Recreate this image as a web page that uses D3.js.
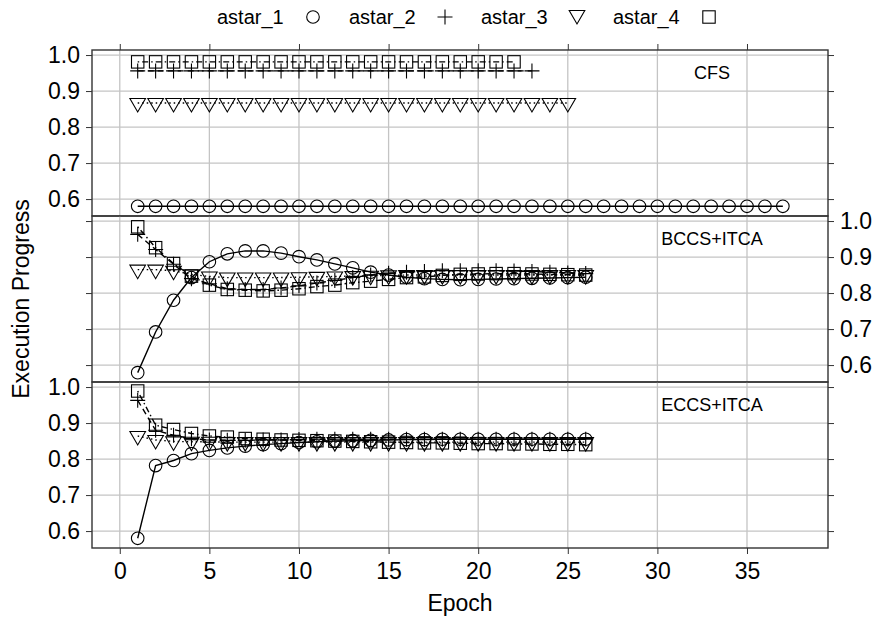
<!DOCTYPE html>
<html><head><meta charset="utf-8">
<script src="https://cdn.jsdelivr.net/npm/d3@7"></script>
<style>body{margin:0;background:#fff}text{font-family:"Liberation Sans",Arial,Helvetica,sans-serif}</style>
</head><body><svg id="c" width="878" height="618"></svg>
<script>
const panelNames = ["CFS", "BCCS+ITCA", "ECCS+ITCA"];
const seriesNames = ["astar_1", "astar_2", "astar_3", "astar_4"];
const xTicks = [0, 5, 10, 15, 20, 25, 30, 35];
const yTicks = [0.6, 0.7, 0.8, 0.9, 1.0];

// CFS panel
const cfs_astar_1 = [0.58,0.58,0.58,0.58,0.58,0.58,0.58,0.58,0.58,0.58,0.58,0.58,0.58,0.58,0.58,0.58,0.58,0.58,0.58,0.58,0.58,0.58,0.58,0.58,0.58,0.58,0.58,0.58,0.58,0.58,0.58,0.58,0.58,0.58,0.58,0.58,0.58];
const cfs_astar_2 = [0.956,0.956,0.956,0.956,0.956,0.956,0.956,0.956,0.956,0.956,0.956,0.956,0.956,0.956,0.956,0.956,0.956,0.956,0.956,0.956,0.956,0.956,0.956];
const cfs_astar_3 = [0.867,0.867,0.867,0.867,0.867,0.867,0.867,0.867,0.867,0.867,0.867,0.867,0.867,0.867,0.867,0.867,0.867,0.867,0.867,0.867,0.867,0.867,0.867,0.867,0.867];
const cfs_astar_4 = [0.981,0.981,0.981,0.981,0.981,0.981,0.981,0.981,0.981,0.981,0.981,0.981,0.981,0.981,0.981,0.981,0.981,0.981,0.981,0.981,0.981,0.981];

// BCCS+ITCA panel
const bccs_astar_1 = [0.579,0.692,0.780,0.843,0.887,0.909,0.917,0.917,0.911,0.901,0.892,0.881,0.870,0.858,0.850,0.844,0.840,0.838,0.837,0.838,0.839,0.840,0.841,0.842,0.843,0.844];
const bccs_astar_2 = [0.963,0.921,0.880,0.840,0.826,0.812,0.810,0.810,0.814,0.820,0.828,0.835,0.843,0.850,0.855,0.858,0.860,0.862,0.862,0.862,0.862,0.861,0.860,0.858,0.856,0.854];
const bccs_astar_3 = [0.865,0.865,0.862,0.852,0.846,0.843,0.843,0.843,0.843,0.844,0.845,0.846,0.847,0.848,0.849,0.850,0.850,0.850,0.850,0.850,0.850,0.850,0.850,0.850,0.850,0.850];
const bccs_astar_4 = [0.984,0.926,0.882,0.847,0.822,0.810,0.808,0.806,0.808,0.812,0.818,0.822,0.829,0.833,0.838,0.843,0.845,0.849,0.852,0.853,0.854,0.854,0.853,0.852,0.851,0.850];

// ECCS+ITCA panel
const eccs_astar_1 = [0.580,0.782,0.796,0.815,0.824,0.831,0.836,0.840,0.843,0.846,0.848,0.850,0.851,0.852,0.853,0.854,0.854,0.855,0.855,0.855,0.855,0.855,0.855,0.855,0.855,0.855];
const eccs_astar_2 = [0.963,0.880,0.866,0.857,0.853,0.852,0.852,0.853,0.853,0.854,0.855,0.855,0.855,0.855,0.855,0.855,0.855,0.855,0.855,0.855,0.855,0.855,0.855,0.855,0.855,0.855];
const eccs_astar_3 = [0.864,0.853,0.849,0.848,0.848,0.847,0.847,0.847,0.847,0.847,0.847,0.847,0.847,0.847,0.847,0.847,0.847,0.847,0.847,0.847,0.847,0.847,0.847,0.847,0.847,0.847];
const eccs_astar_4 = [0.989,0.894,0.882,0.871,0.864,0.861,0.857,0.855,0.853,0.852,0.851,0.850,0.849,0.848,0.847,0.846,0.845,0.845,0.844,0.843,0.843,0.842,0.842,0.841,0.841,0.840];

const panelData = [
  [cfs_astar_1, cfs_astar_2, cfs_astar_3, cfs_astar_4],
  [bccs_astar_1, bccs_astar_2, bccs_astar_3, bccs_astar_4],
  [eccs_astar_1, eccs_astar_2, eccs_astar_3, eccs_astar_4]
];

const svg = d3.select("#c");
const L = 92, R = 828, T0 = 50, PH = 166;
const x = d3.scaleLinear().domain([-1.55, 39.52]).range([L, R]);
const dashes = [null, "6,4", "1.5,3", "1.5,3,6,3"];
const gridColor = "#c4c4c4";
const FONT = "'Liberation Sans',Arial,sans-serif";

function marker(g, type, cx, cy) {
  const s = g.append("g").attr("transform", `translate(${cx},${cy})`)
    .attr("fill", "none").attr("stroke", "#000").attr("stroke-width", 1.1);
  if (type === 0) s.append("circle").attr("r", 6.3);
  else if (type === 1) s.append("path").attr("d", "M-7.5,0H7.5M0,-7.5V7.5");
  else if (type === 2) s.append("path").attr("d", "M-7.8,-4.5L7.8,-4.5L0,9Z");
  else s.append("rect").attr("x", -6.2).attr("y", -6.2).attr("width", 12.4).attr("height", 12.4);
}

panelNames.forEach((name, pi) => {
  const top = T0 + pi * PH, bot = top + PH;
  const y = d3.scaleLinear().domain([0.553, 1.014]).range([bot, top]);
  const g = svg.append("g");
  // grid
  g.selectAll(".vg").data(xTicks).join("line")
    .attr("x1", d => x(d)).attr("x2", d => x(d)).attr("y1", top).attr("y2", bot)
    .attr("stroke", gridColor).attr("stroke-width", 1.3);
  g.selectAll(".hg").data(yTicks).join("line")
    .attr("x1", L).attr("x2", R).attr("y1", d => y(d)).attr("y2", d => y(d))
    .attr("stroke", gridColor).attr("stroke-width", 1.3);
  // strip label
  g.append("text").attr("x", 712).attr("y", top + 28.5).attr("text-anchor", "middle")
    .attr("font-size", 18).text(name);
  // series
  panelData[pi].forEach((vals, si) => {
    const pts = vals.map((v, i) => [i + 1, v]);
    const line = d3.line().x(d => x(d[0])).y(d => y(d[1]));
    g.append("path").attr("d", line(pts)).attr("fill", "none").attr("stroke", "#000")
      .attr("stroke-width", 1.4).attr("stroke-dasharray", dashes[si]);
    pts.forEach(p => marker(g, si, x(p[0]), y(p[1])));
  });
  // border
  g.append("rect").attr("x", L).attr("y", top).attr("width", R - L).attr("height", PH)
    .attr("fill", "none").attr("stroke", "#333").attr("stroke-width", 1.4);
  // y axes
  const fmt = d3.format(".1f");
  const la = d3.axisLeft(y).tickValues(yTicks).tickSize(6).tickPadding(6)
    .tickFormat(pi === 1 ? "" : fmt);
  const ra = d3.axisRight(y).tickValues(yTicks).tickSize(6).tickPadding(6)
    .tickFormat(pi === 1 ? fmt : "");
  const ga = g.append("g").attr("transform", `translate(${L},0)`).call(la);
  const gb = g.append("g").attr("transform", `translate(${R},0)`).call(ra);
  [ga, gb].forEach(a => {
    a.select(".domain").remove();
    a.selectAll("line").attr("stroke", "#333");
    a.selectAll("text").attr("font-size", 23).attr("fill", "#000").style("font-family", FONT);
  });
  if (pi === 0) {
    const ta = g.append("g").attr("transform", `translate(0,${top})`)
      .call(d3.axisTop(x).tickValues(xTicks).tickSize(6).tickFormat(""));
    ta.select(".domain").remove();
    ta.selectAll("line").attr("stroke", "#333");
  }
  if (pi === 2) {
    const ba = g.append("g").attr("transform", `translate(0,${bot})`)
      .call(d3.axisBottom(x).tickValues(xTicks).tickSize(6).tickPadding(9));
    ba.select(".domain").remove();
    ba.selectAll("line").attr("stroke", "#333");
    ba.selectAll("text").attr("font-size", 23).attr("fill", "#000").style("font-family", FONT);
  }
});

// axis titles
svg.append("text").attr("x", (L + R) / 2).attr("y", 611).attr("text-anchor", "middle")
  .attr("font-size", 23).text("Epoch");
svg.append("text").attr("transform", `translate(29,${T0 + 1.5 * PH}) rotate(-90)`)
  .attr("text-anchor", "middle").attr("font-size", 23).text("Execution Progress");

// legend
const lg = svg.append("g");
seriesNames.forEach((n, i) => {
  const x0 = 217 + i * 132;
  lg.append("text").attr("x", x0).attr("y", 24).attr("font-size", 20).text(n);
  marker(lg, i, x0 + 96, i === 2 ? 15 : 17);
});
</script></body></html>
